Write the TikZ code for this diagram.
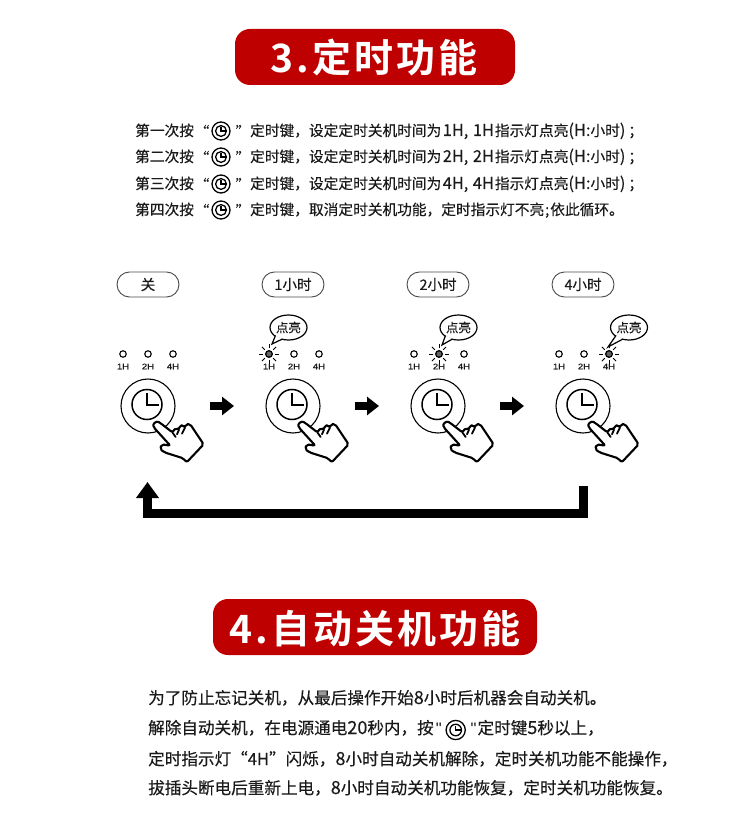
\documentclass[tikz,border=0pt]{standalone}
\usepackage{fontspec}
\usetikzlibrary{arrows.meta,shapes.geometric,calc}
\setmainfont[FakeBold=0.25]{Noto Sans CJK SC}
\newfontfamily\titlefont[LetterSpace=8]{Noto Sans CJK SC Bold}
\newfontfamily\ledfont[FakeStretch=1.2,FakeBold=0.6]{Liberation Sans}
\newfontfamily\quotefont{Liberation Sans}
\definecolor{titlered}{HTML}{BF0000}
\definecolor{ink}{HTML}{1A1A1A}
\newcommand{\lt}[1]{{\fontsize{16.4}{15}\selectfont #1}}
\newcommand{\bd}[1]{{\fontsize{18}{17}\selectfont #1}}
\tikzset{
  x=1pt,y=-1pt,
  titlebox/.style={fill=titlered,rounded corners=15pt,inner sep=0pt},
  titletext/.style={text=white,inner sep=0pt,font=\titlefont\fontsize{39}{39}\selectfont},
  topline/.style={anchor=base west,inner sep=0pt,text=ink,font=\fontsize{14.7}{15}\selectfont},
  botline/.style={anchor=base west,inner sep=0pt,text=ink,font=\fontsize{16.6}{17}\selectfont},
  quotemark/.style={inner sep=0pt,text=ink,font=\fontsize{14.6}{15}\selectfont},
  pill/.style={draw=black!70,line width=0.9pt,rounded corners=12.5pt,minimum width=62pt,minimum height=25pt,inner sep=0pt,text=ink,font=\fontsize{14.5}{14}\selectfont},
  led/.style={circle,draw=black,line width=1.1pt,fill=white,minimum size=6.5pt,inner sep=0pt},
  ledon/.style={led,fill=black!60},
  ledlabel/.style={inner sep=0pt,text=ink,font=\ledfont\fontsize{8}{8}\selectfont},
  btnouter/.style={circle,draw=black,line width=1.1pt,minimum size=54pt,inner sep=0pt},
  btninner/.style={circle,draw=black,line width=1.5pt,minimum size=30pt,inner sep=0pt},
  clockhand/.style={line width=2pt,line cap=butt,line join=miter},
  icon/.style={circle,draw=black,line width=1.3pt,inner sep=0pt},
  callouttext/.style={inner sep=0pt,text=ink,font=\fontsize{12.5}{13}\selectfont},
  stepflow/.style={line width=8pt,black,-{Triangle[length=12pt,width=18pt]}},
  loopflow/.style={line width=9pt,black,line join=miter,-{Triangle[length=16pt,width=22pt]}},
  handshape/.style={draw=black,line width=2.1pt,fill=white,line join=round,rounded corners=2pt},
  handline/.style={draw=black,line width=1.8pt,line cap=round},
  ray/.style={line width=1pt,black},
}
\newcommand{\clockicon}[4]{% name, x, y, radius
  \node[icon,minimum size=#4*2pt] (#1o) at (#2,#3) {};
  \node[icon,minimum size=#4*1.2pt] (#1i) at (#2,#3) {};
  \draw[line width=1.1pt] ($(#1i.center)+(0,-#4*0.45)$) -- (#1i.center) -- ($(#1i.center)+(#4*0.5,0)$);
}
\newcommand{\hand}[1]{% button centre x
  \begin{scope}[shift={(#1-33,375)},x=0.3333pt,y=-0.3333pt]
    \draw[handshape] (117,158) .. controls (113,147) and (124,137) .. (136,144)
      -- (172,172) -- (183,158) -- (192,164) -- (194,152) -- (206,150) -- (210,158)
      -- (213,147) -- (225,147) -- (266,208) -- (215,262) -- (205,250) -- (148,232)
      -- (135,222) -- (140,208) -- (166,212) -- cycle;
    \draw[handline] (172,172) -- (182,186);
    \draw[handline] (192,164) -- (186,178);
    \draw[handline] (210,158) -- (201,176);
  \end{scope}
}
\newcommand{\unit}[4]{% index, button x, led x, label
  \node[pill] (p#1) at (#2,284.5) {#4};
  \node[btnouter] (b#1) at (#2,406) {};
  \node[btninner] (bi#1) at (#2-1,404.5) {};
  \draw[clockhand] ($(bi#1.center)+(0,-12)$) -- (bi#1.center) -- ($(bi#1.center)+(12,0)$);
  \hand{#2}
  \node[led] (l#1a) at (#3-25,354) {};
  \node[led] (l#1b) at (#3,354) {};
  \node[led] (l#1c) at (#3+25,354) {};
  \node[ledlabel] (t#1a) at (#3-25,366.5) {1H};
  \node[ledlabel] (t#1b) at (#3,366.5) {2H};
  \node[ledlabel] (t#1c) at (#3+25,366.5) {4H};
}
\newcommand{\lit}[4]{% led node, callout name, callout x, tail tip
  \node[ledon] at (#1.center) {};
  \foreach \a in {0,45,...,315}{\draw[ray] (#1.center) ++(\a:6) -- ++(\a:4);}
  \node[ellipse,draw=black,line width=1.2pt,fill=white,minimum width=37pt,minimum height=25pt,inner sep=0pt] (#2) at (#3,327.5) {};
  \draw[line width=1.2pt,fill=white,line join=miter] ($(#2.center)+(-13,8)$) -- (#4) -- ($(#2.center)+(-6,11.5)$);
  \fill[white] ($(#2.center)+(-12,7.5)$) -- ($(#2.center)+(-6,10.8)$) -- ($(#2.center)+(-6,8)$) -- cycle;
  \node[callouttext] (#2t) at (#2.center) {点亮};
}
\begin{document}
\begin{tikzpicture}
\useasboundingbox[fill=white] (0,0) rectangle (750,826);
% titles
\node[titlebox,minimum width=280pt,minimum height=56pt] (title3) at (375,57) {};
\node[titletext] (title3t) at (374,58) {3.定时功能};
\node[titlebox,minimum width=324pt,minimum height=56pt] (title4) at (375,627) {};
\node[titletext] (title4t) at (375,629) {4.自动关机功能};
% upper text
\foreach \n/\y/\a/\b in {1/136/第一次按/{定时键，设定定时关机时间为\hspace{1.5pt}\lt{1H,}\hspace{4.5pt}\lt{1H}\hspace{1pt}指示灯点亮\lt{(H:}小时\lt{)}\hspace{3pt}；},
  2/162/第二次按/{定时键，设定定时关机时间为\hspace{1.5pt}\lt{2H,}\hspace{4.5pt}\lt{2H}\hspace{1pt}指示灯点亮\lt{(H:}小时\lt{)}\hspace{3pt}；},
  3/189/第三次按/{定时键，设定定时关机时间为\hspace{1.5pt}\lt{4H,}\hspace{4.5pt}\lt{4H}\hspace{1pt}指示灯点亮\lt{(H:}小时\lt{)}\hspace{3pt}；},
  4/215/第四次按/{定时键，取消定时关机功能，定时指示灯不亮\hspace{1pt};\hspace{1pt}依此循环。}}{
  \node[topline] (ua\n) at (135,\y) {\a};
  \node[quotemark] (uq\n) at (202,\y-5) {“};
  \clockicon{uc\n}{221}{\y-5}{9}
  \node[quotemark] (ur\n) at (243,\y-5) {”};
  \node[topline] (ub\n) at (250,\y) {\b};
}
% units
\unit{1}{148}{148}{关}
\unit{2}{293}{294}{1小时}
\unit{3}{438}{439}{2小时}
\unit{4}{583}{584}{4小时}
\coordinate (tip2) at (272,344);
\coordinate (tip3) at (442,345);
\coordinate (tip4) at (608,347);
\lit{l2a}{c2}{288.5}{tip2}
\lit{l3b}{c3}{458.5}{tip3}
\lit{l4c}{c4}{629}{tip4}
% arrows
\draw[stepflow,shorten <=62pt,shorten >=59pt] (b1.center) -- (b2.center);
\draw[stepflow,shorten <=62pt,shorten >=59pt] (b2.center) -- (b3.center);
\draw[stepflow,shorten <=62pt,shorten >=59pt] (b3.center) -- (b4.center);
\coordinate (loopstart) at (583.5,486);
\coordinate (loopbend) at (583.5,513.5);
\coordinate (loopend) at (147.5,482);
\draw[loopflow] (loopstart) -- (loopbend) -| (loopend);
% lower text
\node[botline] (d1) at (148,704) {为了防止忘记关机，从最后操作开始\bd{8}小时后机器会自动关机。};
\node[botline] (d2) at (148,734) {解除自动关机，在电源通电\bd{20}秒内，按\hspace{2pt}{\quotefont"}};
\clockicon{dc}{455.7}{730}{9.6}
\node[botline] (d2b) at (470.5,734) {{\quotefont"}\hspace{1pt}定时键\bd{5}秒以上，};
\node[botline] (d3) at (148,765) {定时指示灯“4H”闪烁，\bd{8}小时自动关机解除，定时关机功能不能操作，};
\node[botline] (d4) at (148,794) {拔插头断电后重新上电，\bd{8}小时自动关机功能恢复，定时关机功能恢复。};
\end{tikzpicture}
\end{document}
